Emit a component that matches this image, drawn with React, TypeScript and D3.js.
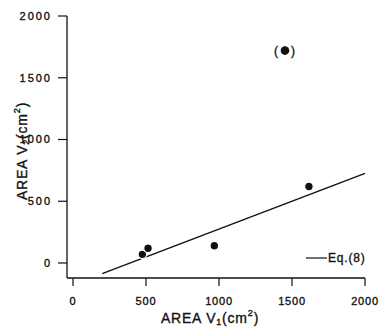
import { useMemo } from 'react';
import * as d3 from 'd3';

// measured points: V1 vs V2 (cm^2)
const v1Values = [475, 514, 968, 1616];
const v2Values = [70, 120, 140, 620];
// outlier shown in parentheses
const outlierV1 = [1452];
const outlierV2 = [1720];
// Eq.(8) line end points
const eqV1 = [200, 2000];
const eqV2 = [-86, 726];

const xTicks = [0, 500, 1000, 1500, 2000];
const yTicks = [0, 500, 1000, 1500, 2000];

const W = 381;
const H = 333;
const FONT = 'Liberation Sans, Arial, Helvetica, sans-serif';
const INK = '#111';

export default function App() {
    const x = useMemo(() => d3.scaleLinear().domain([0, 2000]).range([73, 365]), []);
    const y = useMemo(() => d3.scaleLinear().domain([0, 2000]).range([263, 16]), []);

    const axisX = 67;
    const axisY = 278;

    const line = d3.line<[number, number]>()
        .x(d => x(d[0]))
        .y(d => y(d[1]));
    const eqPts: [number, number][] = eqV1.map((v, i) => [v, eqV2[i]]);

    // scanned look: slightly heavier text
    const txt = { fill: INK, stroke: INK, strokeWidth: 0.35 };

    return (
        <div style={{ position: 'fixed', left: 0, top: 0 }}>
            <svg width={W} height={H} style={{ display: 'block', background: '#fff' }} fontFamily={FONT}>
                {/* axes frame */}
                <line x1={axisX} y1={y(2000)} x2={axisX} y2={axisY} stroke={INK} strokeWidth={1.3} />
                <line x1={axisX} y1={axisY} x2={x(2000)} y2={axisY} stroke={INK} strokeWidth={1.3} />

                {/* y ticks */}
                {yTicks.map(t => (
                    <g key={'y' + t}>
                        <line x1={axisX - 9} x2={axisX} y1={y(t)} y2={y(t)} stroke={INK} strokeWidth={1.2} />
                        <text x={52} y={y(t)} dy="0.36em" textAnchor="end" fontSize={11} letterSpacing={2} {...txt}>{t}</text>
                    </g>
                ))}

                {/* x ticks */}
                {xTicks.map(t => (
                    <g key={'x' + t}>
                        <line x1={x(t)} x2={x(t)} y1={axisY} y2={axisY + 8} stroke={INK} strokeWidth={1.2} />
                        <text x={x(t)} y={305} textAnchor="middle" fontSize={11} letterSpacing={0.8} {...txt}>{t}</text>
                    </g>
                ))}

                {/* axis titles */}
                <text x={210} y={323} textAnchor="middle" fontSize={14} letterSpacing={0.8} {...txt}>
                    AREA V<tspan fontSize={9} dy={2}>1</tspan><tspan dy={-2}>(cm</tspan><tspan fontSize={9} dy={-7}>2</tspan><tspan dy={7}>)</tspan>
                </text>
                <text transform="translate(27,151) rotate(-90)" textAnchor="middle" fontSize={14} letterSpacing={0.8} {...txt}>
                    AREA  V<tspan fontSize={9} dy={2}>2</tspan><tspan dy={-2}>(cm</tspan><tspan fontSize={9} dy={-7}>2</tspan><tspan dy={7}>)</tspan>
                </text>

                {/* Eq.(8) line */}
                <path d={line(eqPts) || ''} fill="none" stroke={INK} strokeWidth={1.4} />

                {/* points */}
                {v1Values.map((v, i) => (
                    <circle key={'p' + i} cx={x(v)} cy={y(v2Values[i])} r={4.3} fill={INK} stroke="#fff" strokeWidth={1.2} />
                ))}
                {outlierV1.map((v, i) => (
                    <g key={'o' + i}>
                        <circle cx={x(v)} cy={y(outlierV2[i])} r={4.3} fill={INK} />
                        <text x={x(v) - 9} y={y(outlierV2[i])} dy="0.36em" textAnchor="middle" fontSize={12} {...txt}>(</text>
                        <text x={x(v) + 8} y={y(outlierV2[i])} dy="0.36em" textAnchor="middle" fontSize={12} {...txt}>)</text>
                    </g>
                ))}

                {/* legend */}
                <line x1={306} x2={327} y1={258} y2={258} stroke={INK} strokeWidth={1.2} />
                <text x={328} y={258} dy="0.36em" fontSize={12} letterSpacing={0.8} {...txt}>Eq.(8)</text>
            </svg>
        </div>
    );
}
